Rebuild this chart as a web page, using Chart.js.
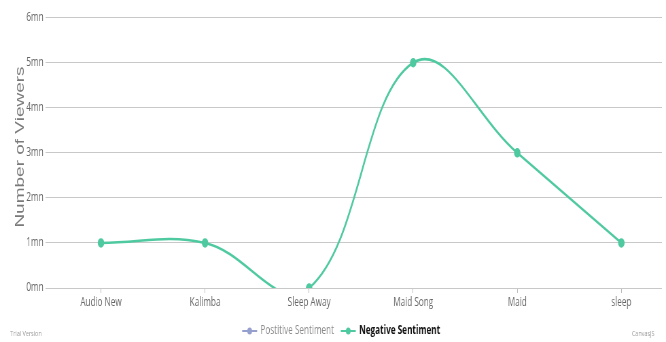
<!DOCTYPE html>
<html>
<head>
<meta charset="utf-8">
<script src="https://cdn.jsdelivr.net/npm/chart.js@4.4.0/dist/chart.umd.min.js"></script>
<style>
  html, body { margin: 0; padding: 0; background: #fff; overflow: hidden; }
  canvas { display: block; }
</style>
</head>
<body>
<!-- drawn wide and squeezed to the window, like the reference -->
<canvas id="chart" width="980" height="342" style="width:666px;height:342px"></canvas>
<script>
const categories = ['Audio New', 'Kalimba', 'Sleep Away', 'Maid Song', 'Maid', 'sleep'];
const negativeValues = [1, 1, 0, 5, 3, 1];
const positiveValues = [];
const yTickLabels = ['0mn', '1mn', '2mn', '3mn', '4mn', '5mn', '6mn'];
const seriesNames = ['Postitive Sentiment', 'Negative Sentiment'];
const axisTitle = 'Number of Viewers';

const positiveColor = '#95a0cf';
const negativeColor = '#4fc9a0';
const font = '"Open Sans", "Noto Sans", sans-serif';

const toPoints = (values) => values.map((v, i) => ({ x: i, y: v }));

// one tick per label, nothing at the padded ends
const ticksFrom = (labels) => (scale) => {
  scale.ticks = labels.map((_, i) => ({ value: i }));
};

const drawMarker = (ctx, x, y, color) => {
  ctx.strokeStyle = color;
  ctx.fillStyle = color;
  ctx.lineWidth = 2;
  ctx.beginPath();
  ctx.moveTo(x, y);
  ctx.lineTo(x + 22, y);
  ctx.stroke();
  ctx.beginPath();
  ctx.arc(x + 11, y, 3.5, 0, Math.PI * 2);
  ctx.fill();
};

const extras = {
  id: 'extras',
  afterDraw(chart) {
    const { ctx } = chart;
    ctx.save();
    const items = [
      { text: seriesNames[0], color: positiveColor, textColor: '#8a8a8a', weight: 'normal' },
      { text: seriesNames[1], color: negativeColor, textColor: '#111', weight: 'bold' }
    ];
    const markerW = 22, gap = 5, itemGap = 10;
    let total = itemGap;
    items.forEach(it => {
      ctx.font = `${it.weight} 12px ${font}`;
      it.w = ctx.measureText(it.text).width;
      total += markerW + gap + it.w;
    });
    let x = 502 - total / 2;
    const y = 331;
    ctx.textBaseline = 'middle';
    ctx.textAlign = 'left';
    items.forEach(it => {
      drawMarker(ctx, x, y, it.color);
      x += markerW + gap;
      ctx.font = `${it.weight} 12px ${font}`;
      ctx.fillStyle = it.textColor;
      ctx.fillText(it.text, x, y);
      x += it.w + itemGap;
    });

    ctx.font = `8px ${font}`;
    ctx.fillStyle = '#999';
    ctx.fillText('Trial Version', 15, 334);
    ctx.textAlign = 'right';
    ctx.fillText('CanvasJS', 963, 334);
    ctx.restore();
  }
};

new Chart(document.getElementById('chart'), {
  type: 'line',
  data: {
    datasets: [
      {
        label: seriesNames[0],
        data: toPoints(positiveValues),
        borderColor: positiveColor,
        backgroundColor: positiveColor
      },
      {
        label: seriesNames[1],
        data: toPoints(negativeValues),
        borderColor: negativeColor,
        backgroundColor: negativeColor,
        borderWidth: 2.5,
        pointRadius: 3.5,
        pointHoverRadius: 3.5,
        tension: 0.4
      }
    ]
  },
  options: {
    responsive: false,
    animation: false,
    layout: { padding: 0 },
    elements: { line: { capBezierPoints: false, fill: false } },
    plugins: {
      legend: { display: false },
      tooltip: { enabled: false }
    },
    scales: {
      x: {
        type: 'linear',
        min: -0.5,
        max: 5.39,
        afterBuildTicks: ticksFrom(categories),
        afterFit: (s) => { s.height = 54; s.paddingLeft = 0; s.paddingRight = 0; },
        ticks: {
          autoSkip: false,
          maxRotation: 0,
          padding: 2,
          color: '#666',
          font: { family: font, size: 12 },
          callback: (v) => categories[v] ?? ''
        },
        grid: { drawOnChartArea: false, drawTicks: true, tickLength: 5, color: '#bbb' },
        border: { display: false }
      },
      y: {
        min: 0,
        max: 6.26,
        afterBuildTicks: ticksFrom(yTickLabels),
        afterFit: (s) => { s.width = 72; s.paddingTop = 0; s.paddingBottom = 0; },
        ticks: {
          padding: 3,
          color: '#666',
          font: { family: font, size: 12 },
          callback: (v) => yTickLabels[v] ?? ''
        },
        grid: { color: '#c8c8c8', lineWidth: 1, tickLength: 5 },
        border: { display: false },
        title: {
          display: true,
          text: axisTitle,
          color: '#7a7a7a',
          font: { family: '"Liberation Sans", Arial, sans-serif', size: 19 },
          padding: { top: 18, bottom: 0 }
        }
      }
    }
  },
  plugins: [extras]
});
</script>
</body>
</html>
